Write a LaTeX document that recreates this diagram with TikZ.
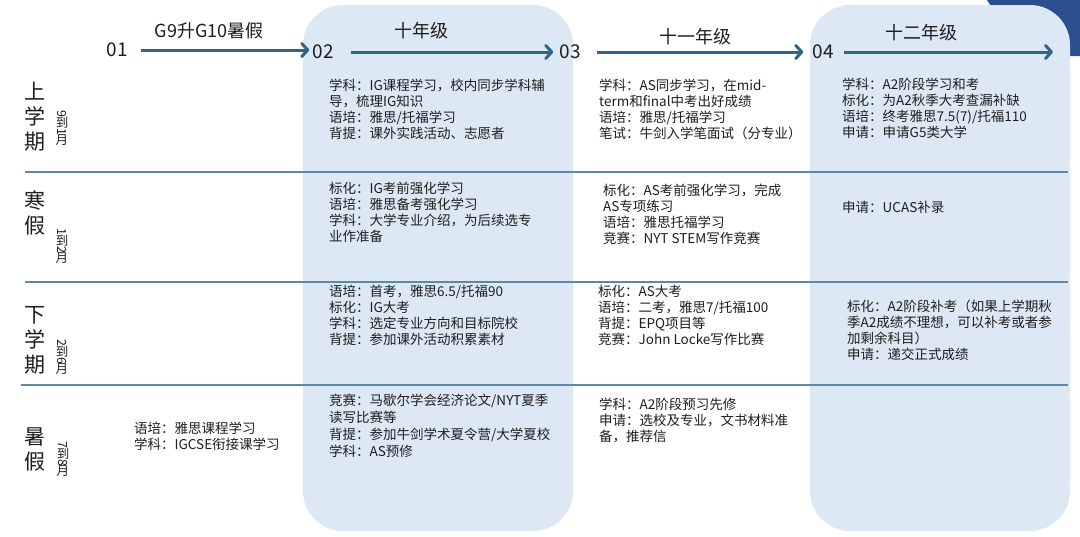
\documentclass[tikz,border=0pt]{standalone}
\usepackage{fontspec}
\usepackage{graphicx}
\setmainfont{Noto Sans CJK SC}
\usetikzlibrary{arrows.meta}
\definecolor{panelc}{HTML}{DDE8F5}
\definecolor{sepc}{HTML}{5E88A8}
\definecolor{arrc}{HTML}{30658A}
\definecolor{cornerc}{HTML}{2B4F8E}
\definecolor{textc}{HTML}{1E1E1E}
\newcommand{\vmon}[2]{#1\rotatebox[origin=c]{90}{到}#2\rotatebox[origin=c]{90}{月}}
\begin{document}
\begin{tikzpicture}[x=1pt,y=-1pt,
  panel/.style={fill=panelc,draw=none,rounded corners=40pt},
  sepline/.style={draw=sepc,line width=2pt},
  arr/.style={draw=arrc,line width=3pt,-{Straight Barb[length=6pt,width=13pt,line cap=round,line join=round]}},
  txt/.style={anchor=north west,inner sep=0pt,align=left,text=textc,font=\fontsize{13.5}{16}\selectfont},
  num/.style={inner sep=0pt,text=textc,font=\fontsize{19}{19}\selectfont},
  ttl/.style={inner sep=0pt,text=textc,font=\fontsize{18}{18}\selectfont},
  rowlab/.style={inner sep=0pt,align=center,text=textc,font=\fontsize{21}{25}\selectfont},
  monlab/.style={inner sep=0pt,rotate=-90,text=textc,font=\fontsize{12.5}{12.5}\selectfont}]
\useasboundingbox (0,0) rectangle (1080,536);
\fill[white] (0,0) rectangle (1080,536);
% dark corner
\fill[cornerc] (987,0) -- (1080,0) -- (1080,56) -- (1040,56) -- (1000,20) -- cycle;
% panels
\fill[panel] (303,5) rectangle (573,531);
\fill[panel] (810,5) rectangle (1070,531);
% separators
\draw[sepline] (25,172) -- (1068,172);
\draw[sepline] (25,282) -- (1068,282);
\draw[sepline] (21,385) -- (1068,385);
% numbers and titles
\node[num] (n01) at (117,50) {01};
\node[num] (n02) at (323,52) {02};
\node[num] (n03) at (570,52) {03};
\node[num] (n04) at (823,52) {04};
\coordinate (endp) at (1053,52);
\draw[arr,shorten <=13pt,shorten >=3pt] (n01.east) -- (n02.west |- n01.east);
\draw[arr,shorten <=17pt,shorten >=6pt] (n02.east) -- (n03.west);
\draw[arr,shorten <=16pt,shorten >=9pt] (n03.east) -- (n04.west);
\draw[arr,shorten <=10pt] (n04.east) -- (endp);
\node[ttl] (t1) at (209,31) {G9升G10暑假};
\node[ttl] (t2) at (421,31) {十年级};
\node[ttl] (t3) at (695,37) {十一年级};
\node[ttl] (t4) at (921,33) {十二年级};
% row labels
\node[rowlab] (r1) at (35,117) {上\\学\\期};
\node[rowlab] (r2) at (35,213) {寒\\假};
\node[rowlab] (r3) at (35,340) {下\\学\\期};
\node[rowlab] (r4) at (35,449) {暑\\假};
\node[monlab] (m1) at (62,128) {\vmon{9}{1}};
\node[monlab] (m2) at (62,246) {\vmon{1}{2}};
\node[monlab] (m3) at (62,357) {\vmon{2}{6}};
\node[monlab] (m4) at (63,459) {\vmon{7}{8}};
% column 1
\node[txt] (c1r4) at (134,421.5) {语培：雅思课程学习\\学科：IGCSE衔接课学习};
% column 2
\node[txt] (c2r1) at (329,78.5) {学科：IG课程学习，校内同步学科辅\\导，梳理IG知识\\语培：雅思/托福学习\\背提：课外实践活动、志愿者};
\node[txt] (c2r2) at (329,181.5) {标化：IG考前强化学习\\语培：雅思备考强化学习\\学科：大学专业介绍，为后续选专\\业作准备};
\node[txt] (c2r3) at (329,284.5) {语培：首考，雅思6.5/托福90\\标化：IG大考\\学科：选定专业方向和目标院校\\背提：参加课外活动积累素材};
\node[txt,font=\fontsize{13.5}{17}\selectfont] (c2r4) at (329,393.5) {竞赛：马歇尔学会经济论文/NYT夏季\\读写比赛等\\背提：参加牛剑学术夏令营/大学夏校\\学科：AS预修};
% column 3
\node[txt] (c3r1) at (599,78.5) {学科：AS同步学习，在mid-\\term和final中考出好成绩\\语培：雅思/托福学习\\笔试：牛剑入学笔面试（分专业）};
\node[txt] (c3r2) at (603,183.5) {标化：AS考前强化学习，完成\\AS专项练习\\语培：雅思托福学习\\竞赛：NYT STEM写作竞赛};
\node[txt] (c3r3) at (598,284.5) {标化：AS大考\\语培：二考，雅思7/托福100\\背提：EPQ项目等\\竞赛：John Locke写作比赛};
\node[txt] (c3r4) at (599,397.5) {学科：A2阶段预习先修\\申请：选校及专业，文书材料准\\备，推荐信};
% column 4
\node[txt] (c4r1) at (842,77.5) {学科：A2阶段学习和考\\标化：为A2秋季大考查漏补缺\\语培：终考雅思7.5(7)/托福110\\申请：申请G5类大学};
\node[txt] (c4r2) at (842,200.5) {申请：UCAS补录};
\node[txt] (c4r3) at (847,299.5) {标化：A2阶段补考（如果上学期秋\\季A2成绩不理想，可以补考或者参\\加剩余科目）\\申请：递交正式成绩};
\end{tikzpicture}
\end{document}
